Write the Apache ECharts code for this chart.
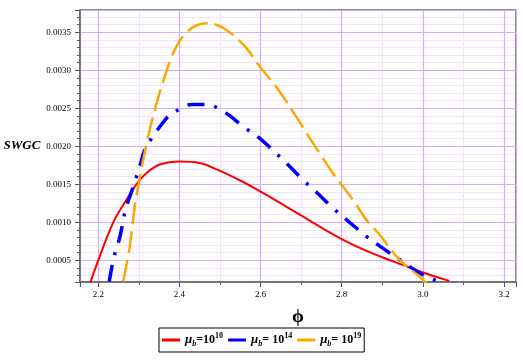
<!DOCTYPE html>
<html>
<head>
<meta charset="utf-8">
<title>SWGC</title>
<script src="https://cdn.jsdelivr.net/npm/echarts@6/dist/echarts.min.js"></script>
</head>
<body style="margin:0;background:#fff">
<div id="chart" style="width:523px;height:360px;"></div>
<script>
// readings: phi and SWGC
var phiRed  = [2.180, 2.200, 2.237, 2.270, 2.294, 2.319, 2.352, 2.401, 2.450, 2.499, 2.550, 2.598, 2.650, 2.700, 2.750, 2.800, 2.850, 2.900, 2.950, 3.000, 3.065];
var swgcRed = [0.00020, 0.00050, 0.00100, 0.00130, 0.00150, 0.00165, 0.00176, 0.00180, 0.00178, 0.00168, 0.00155, 0.00141, 0.00125, 0.00109, 0.00093, 0.00078, 0.00065, 0.00054, 0.00044, 0.00034, 0.00023];

var phiBlue  = [2.227, 2.239, 2.253, 2.267, 2.285, 2.303, 2.315, 2.332, 2.352, 2.372, 2.401, 2.430, 2.467, 2.516, 2.557, 2.594, 2.622, 2.667, 2.704, 2.741, 2.778, 2.815, 2.860, 2.893, 2.942, 3.000, 3.050];
var swgcBlue = [0.00022, 0.00055, 0.00080, 0.00116, 0.00145, 0.00175, 0.00196, 0.00211, 0.00226, 0.00239, 0.00249, 0.00255, 0.00255, 0.00243, 0.00226, 0.00212, 0.00199, 0.00176, 0.00156, 0.00138, 0.00119, 0.00102, 0.00082, 0.00069, 0.00051, 0.00031, 0.00020];

var phiOrange  = [2.2615, 2.278, 2.290, 2.303, 2.319, 2.344, 2.364, 2.385, 2.409, 2.438, 2.467, 2.507, 2.557, 2.598, 2.643, 2.684, 2.721, 2.778, 2.827, 2.864, 2.893, 2.942, 2.991, 3.012];
var swgcOrange = [0.00022, 0.00069, 0.00121, 0.00160, 0.00204, 0.00257, 0.00292, 0.00323, 0.00345, 0.00358, 0.00362, 0.00356, 0.00334, 0.00305, 0.00275, 0.00242, 0.00211, 0.00165, 0.00130, 0.00101, 0.00084, 0.00051, 0.00029, 0.00018];

var legendExp = ['10', '14', '19'];
var legendEq  = ['=10', '= 10', '= 10'];

var majorGrid = '#d5adff';
var minorGrid = '#efe3ff';
var serif = 'Liberation Serif';

function pairs(xs, ys) {
    return xs.map(function (x, i) { return [x, ys[i]]; });
}
function isStep(v, step) {
    var k = v / step;
    return Math.abs(k - Math.round(k)) < 1e-6;
}

var seriesNames = legendExp.map(function (e) { return 'mu' + e; });

var option = {
    backgroundColor: '#fff',
    animation: false,
    grid: {
        left: 80, right: 7, top: 10, bottom: 78,
        show: true, borderColor: '#666', borderWidth: 1.5, backgroundColor: 'transparent'
    },
    legend: {
        data: seriesNames,
        left: 159, top: 328,
        icon: 'rect', itemWidth: 18, itemHeight: 3, itemGap: 5,
        padding: [4, 3, 4, 3],
        borderColor: '#000', borderWidth: 1,
        formatter: function (name) {
            var i = seriesNames.indexOf(name);
            return '{m|μ}{s|b}{q|' + legendEq[i] + '}{p|' + legendExp[i] + '}';
        },
        textStyle: {
            fontFamily: serif, fontWeight: 'bold', color: '#000', fontSize: 12,
            rich: {
                m: { fontFamily: serif, fontStyle: 'italic', fontWeight: 'bold', fontSize: 13, lineHeight: 16 },
                s: { fontFamily: serif, fontStyle: 'italic', fontWeight: 'bold', fontSize: 8, lineHeight: 15, verticalAlign: 'bottom' },
                q: { fontFamily: serif, fontWeight: 'bold', fontSize: 12, lineHeight: 16 },
                p: { fontFamily: serif, fontWeight: 'bold', fontSize: 8, lineHeight: 8, verticalAlign: 'top' }
            }
        }
    },
    xAxis: [
        {   // major grid, labels
            type: 'value', position: 'bottom', min: 2.155, max: 3.2295,
            minInterval: 0.2, maxInterval: 0.2, splitNumber: 5,
            name: 'ϕ', nameLocation: 'middle', nameGap: 26,
            nameTextStyle: { fontFamily: serif, fontWeight: 'bold', fontSize: 19, color: '#000' },
            axisLine: { show: true, lineStyle: { color: '#666', width: 1.5 } },
            axisTick: { show: true, length: 5, lineStyle: { color: '#555' } },
            minorTick: { show: true, splitNumber: 2, length: 3, lineStyle: { color: '#555' } },
            axisLabel: {
                fontFamily: serif, fontSize: 9, color: '#000', margin: 8,
                showMinLabel: false, showMaxLabel: false,
                formatter: function (v) { return isStep(v, 0.2) ? v.toFixed(1) : ''; }
            },
            splitLine: { show: true, lineStyle: { color: majorGrid, width: 1.2 } }
        },
        {   // minor grid at 0.1
            type: 'value', position: 'bottom', min: 2.155, max: 3.2295,
            minInterval: 0.1, maxInterval: 0.1, splitNumber: 10, z: -1,
            axisLine: { show: false },
            axisTick: { show: false },
            axisLabel: { show: false },
            splitLine: { show: true, lineStyle: { color: minorGrid, width: 1 } }
        }
    ],
    yAxis: [
        {
            type: 'value', position: 'left', min: 0.000215, max: 0.003793,
            minInterval: 0.0005, maxInterval: 0.0005, splitNumber: 7,
            name: 'SWGC', nameLocation: 'middle', nameRotate: 0, nameGap: 37,
            nameTextStyle: { fontFamily: serif, fontStyle: 'italic', fontWeight: 'bold', fontSize: 13, color: '#000' },
            axisLine: { show: true, lineStyle: { color: '#666', width: 1.5 } },
            axisTick: { show: true, length: 5, lineStyle: { color: '#555' } },
            minorTick: { show: true, splitNumber: 5, length: 3, lineStyle: { color: '#555' } },
            axisLabel: {
                fontFamily: serif, fontSize: 9, color: '#000', margin: 9,
                showMinLabel: false, showMaxLabel: false,
                formatter: function (v) { return isStep(v, 0.0005) ? v.toFixed(4) : ''; }
            },
            splitLine: { show: true, lineStyle: { color: majorGrid, width: 1.2 } }
        },
        {
            type: 'value', position: 'left', min: 0.000215, max: 0.003793,
            minInterval: 0.0001, maxInterval: 0.0001, splitNumber: 36, z: -1,
            axisLine: { show: false },
            axisTick: { show: false },
            axisLabel: { show: false },
            splitLine: { show: true, lineStyle: { color: minorGrid, width: 1 } }
        }
    ],
    series: [
        {
            name: seriesNames[0], type: 'line', xAxisIndex: 0, yAxisIndex: 0,
            smooth: 0.35, showSymbol: false, clip: true,
            itemStyle: { color: '#ff0000' },
            lineStyle: { color: '#ff0000', width: 2 },
            data: pairs(phiRed, swgcRed)
        },
        {
            name: seriesNames[1], type: 'line', xAxisIndex: 0, yAxisIndex: 0,
            smooth: 0.35, showSymbol: false, clip: true,
            itemStyle: { color: '#0000ff' },
            lineStyle: { color: '#0000ff', width: 3.5, type: [17, 10, 3, 10] },
            data: pairs(phiBlue, swgcBlue)
        },
        {
            name: seriesNames[2], type: 'line', xAxisIndex: 0, yAxisIndex: 0,
            smooth: 0.35, showSymbol: false, clip: true,
            itemStyle: { color: '#ffa500' },
            lineStyle: { color: '#ffa500', width: 2.5, type: [22, 7] },
            data: pairs(phiOrange, swgcOrange)
        }
    ]
};

var chart = echarts.init(document.getElementById('chart'));
chart.setOption(option);
</script>
</body>
</html>
